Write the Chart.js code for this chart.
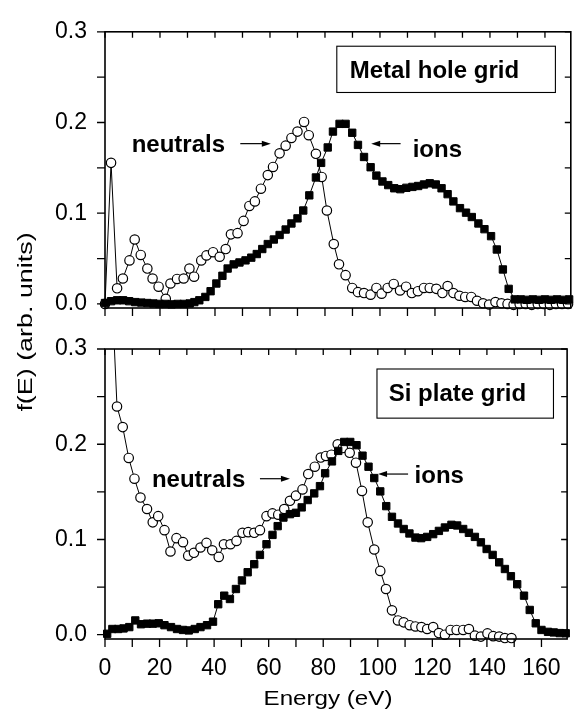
<!DOCTYPE html>
<html>
<head>
<meta charset="utf-8">
<script src="https://cdn.jsdelivr.net/npm/chart.js@4.4.1/dist/chart.umd.min.js"></script>
<style>
  body { margin: 0; background: #fff; }
  #wrap { position: relative; width: 577px; height: 712px; }
  #wrap canvas { position: absolute; left: 0; top: 0; }
</style>
</head>
<body>
<div id="wrap">
  <canvas id="metal" width="577" height="712"></canvas>
  <canvas id="si" width="577" height="712"></canvas>
</div>
<script>
// tick values
var xTicks = [0, 20, 40, 60, 80, 100, 120, 140, 160];
var yTicks = [0.0, 0.1, 0.2, 0.3];

// Metal hole grid - ions (filled squares)
var metalIonE = [0.0, 2.2, 4.4, 6.6, 8.8, 11.0, 13.2, 15.4, 17.6, 19.8, 22.0, 24.2, 26.4, 28.6, 30.8, 32.5, 34.3, 36.5, 38.4, 40.5,
  42.7, 44.6, 46.8, 48.9, 51.1, 53.2, 55.2, 57.2, 59.2, 61.4, 63.5, 65.7, 67.8, 70.0, 72.1, 74.3, 76.7, 78.6, 81.0, 82.9,
  85.3, 87.5, 89.9, 92.0, 94.2, 96.6, 98.7, 100.9, 103.0, 105.2, 107.4, 109.6, 111.8, 113.9, 116.0, 118.1, 120.3, 122.4, 124.6, 126.7,
  129.1, 131.3, 133.4, 135.8, 138.0, 140.4, 142.5, 144.7, 146.8, 149.0, 151.2, 153.4, 155.6, 157.8, 160.0, 162.2, 164.4, 166.6, 168.8];
var metalIonF = [0.001, 0.003, 0.004, 0.004, 0.003, 0.002, 0.0015, 0.001, 0.0005, 0.0, 0.0, -0.0005, 0.0, 0.0, 0.0005, 0.002, 0.004, 0.0077, 0.014, 0.0225,
  0.031, 0.039, 0.0436, 0.0457, 0.048, 0.051, 0.055, 0.0605, 0.066, 0.071, 0.076, 0.082, 0.0887, 0.0943, 0.103, 0.1197, 0.1394, 0.1555, 0.1725, 0.190,
  0.1985, 0.1985, 0.1887, 0.1753, 0.162, 0.1507, 0.1415, 0.135, 0.131, 0.1275, 0.1265, 0.128, 0.129, 0.130, 0.1317, 0.133, 0.1317, 0.1275, 0.121, 0.113,
  0.1056, 0.1006, 0.0958, 0.0887, 0.0824, 0.0747, 0.060, 0.038, 0.0166, 0.005, 0.005, 0.0045, 0.005, 0.0045, 0.005, 0.0045, 0.005, 0.0045, 0.005];

// Metal hole grid - neutrals (open circles)
var metalNeuE = [0.0, 2.2, 4.4, 6.5, 8.9, 10.8, 13.0, 15.4, 17.3, 19.5, 22.1, 23.8, 26.2, 28.6, 30.7, 32.4, 35.0, 36.9, 39.3, 41.7,
  43.9, 45.8, 48.2, 50.4, 52.5, 54.5, 56.7, 59.2, 61.1, 63.5, 65.7, 67.8, 70.0, 72.4, 74.1, 76.7, 78.8, 80.7, 83.2, 85.1,
  87.5, 89.9, 92.0, 94.2, 96.6, 98.7, 100.6, 102.8, 105.0, 107.3, 109.5, 111.6, 113.8, 116.0, 118.1, 120.5, 122.7, 124.6, 126.7, 128.9,
  131.0, 133.2, 135.3, 137.5, 139.7, 142.0, 144.2, 146.4, 148.6, 150.8, 153.0, 155.2, 157.4, 159.6, 161.8, 164.0, 166.2, 168.4];
var metalNeuF = [0.0, 0.1555, 0.0172, 0.028, 0.048, 0.071, 0.054, 0.039, 0.028, 0.019, 0.0056, 0.0225, 0.0275, 0.028, 0.039, 0.030, 0.048, 0.0535, 0.057, 0.052,
  0.0605, 0.0767, 0.078, 0.0915, 0.108, 0.113, 0.127, 0.142, 0.151, 0.166, 0.1745, 0.183, 0.190, 0.2006, 0.186, 0.1655, 0.140, 0.103, 0.066, 0.0437,
  0.0317, 0.0176, 0.013, 0.012, 0.0102, 0.0176, 0.0113, 0.0176, 0.022, 0.0148, 0.019, 0.012, 0.014, 0.0176, 0.0176, 0.0166, 0.012, 0.0197, 0.012, 0.009,
  0.0077, 0.0077, 0.0035, 0.0007, -0.0007, 0.002, 0.0007, 0.0, -0.001, 0.0, 0.0, -0.001, 0.0, 0.0, -0.001, 0.0, 0.0, 0.0];

// Si plate grid - ions
var siIonE = [0.8, 2.7, 4.8, 6.8, 8.9, 11.1, 13.2, 15.4, 17.5, 19.7, 21.8, 24.2, 26.4, 28.6, 30.7, 32.9, 35.0, 37.4, 39.6, 41.5,
  43.7, 45.8, 48.0, 50.2, 52.3, 54.7, 56.8, 59.2, 61.4, 63.3, 65.4, 67.8, 70.0, 72.1, 74.3, 76.7, 78.8, 80.7, 83.2, 85.5,
  87.7, 89.9, 92.2, 94.4, 96.6, 98.7, 100.9, 103.1, 105.2, 107.4, 109.5, 111.6, 113.8, 115.9, 118.1, 120.3, 122.4, 124.6, 127.0, 129.1,
  131.3, 133.4, 135.6, 137.8, 139.9, 142.1, 144.5, 146.6, 148.8, 151.1, 153.6, 155.7, 157.9, 160.0, 162.4, 164.5, 166.7, 168.9];
var siIonF = [0.001, 0.006, 0.006, 0.0066, 0.008, 0.015, 0.011, 0.0116, 0.0116, 0.012, 0.010, 0.008, 0.006, 0.005, 0.0045, 0.006, 0.008, 0.010, 0.0137, 0.032,
  0.041, 0.0375, 0.048, 0.057, 0.0656, 0.074, 0.0838, 0.095, 0.1048, 0.114, 0.123, 0.1266, 0.128, 0.1337, 0.1414, 0.1484, 0.156, 0.1695, 0.182, 0.193,
  0.2024, 0.2024, 0.199, 0.188, 0.1764, 0.1645, 0.1505, 0.135, 0.1238, 0.1168, 0.111, 0.1063, 0.102, 0.1014, 0.1027, 0.1056, 0.109, 0.1126, 0.1154, 0.1147,
  0.111, 0.107, 0.1027, 0.097, 0.090, 0.0838, 0.076, 0.069, 0.0614, 0.053, 0.041, 0.026, 0.012, 0.005, 0.003, 0.0024, 0.0017, 0.0015];

// Si plate grid - neutrals (first point is off scale)
var siNeuE = [2.2, 4.4, 6.5, 8.7, 10.8, 13.0, 15.4, 17.5, 19.5, 21.8, 24.0, 26.2, 28.6, 30.5, 32.6, 35.0, 37.2, 39.3, 41.7, 43.6,
  46.0, 48.2, 50.4, 52.5, 54.7, 56.8, 59.2, 61.4, 63.5, 65.7, 67.8, 70.0, 72.4, 74.5, 76.9, 79.1, 81.0, 83.0, 85.3, 87.2,
  89.7, 92.0, 94.2, 96.3, 98.7, 100.9, 103.0, 105.2, 107.4, 109.5, 111.7, 113.8, 116.0, 118.1, 120.3, 122.4, 124.6, 126.7, 128.9, 131.3,
  133.4, 135.6, 137.8, 140.2, 142.3, 144.5, 146.6, 149.0];
var siNeuF = [0.38, 0.2396, 0.218, 0.1856, 0.1638, 0.144, 0.132, 0.118, 0.1245, 0.1098, 0.0874, 0.1014, 0.0972, 0.083, 0.086, 0.0916, 0.0964, 0.0887, 0.0817, 0.095,
  0.095, 0.0985, 0.107, 0.1077, 0.107, 0.1098, 0.1245, 0.1274, 0.126, 0.132, 0.1406, 0.146, 0.1526, 0.1687, 0.1764, 0.186, 0.1877, 0.189, 0.200, 0.196,
  0.191, 0.1806, 0.151, 0.118, 0.0895, 0.067, 0.048, 0.0256, 0.015, 0.013, 0.010, 0.0087, 0.008, 0.006, 0.008, 0.0017, 0.0, 0.005, 0.005, 0.005,
  0.006, -0.001, -0.002, 0.0014, -0.0015, -0.002, -0.0035, -0.0035];

Chart.defaults.font.family = '"Liberation Sans", Arial, Helvetica, sans-serif';
Chart.defaults.color = '#000';

function pts(xs, ys) {
  return xs.map(function (v, i) { return { x: v, y: ys[i] }; });
}

function arrow(ctx, x1, y1, x2, y2) {
  var a = Math.atan2(y2 - y1, x2 - x1);
  ctx.beginPath();
  ctx.moveTo(x1, y1);
  ctx.lineTo(x2 - 7 * Math.cos(a), y2 - 7 * Math.sin(a));
  ctx.stroke();
  ctx.beginPath();
  ctx.moveTo(x2, y2);
  ctx.lineTo(x2 - 9 * Math.cos(a) + 3 * Math.sin(a), y2 - 9 * Math.sin(a) - 3 * Math.cos(a));
  ctx.lineTo(x2 - 9 * Math.cos(a) - 3 * Math.sin(a), y2 - 9 * Math.sin(a) + 3 * Math.cos(a));
  ctx.closePath();
  ctx.fill();
}

// frame, ticks on four sides and the notes
var framePlugin = {
  id: 'frame',
  afterDraw: function (chart, args, o) {
    var ctx = chart.ctx, a = chart.chartArea, x = chart.scales.x, y = chart.scales.y;
    ctx.save();
    ctx.strokeStyle = '#000';
    ctx.fillStyle = '#000';
    ctx.lineWidth = 1.3;
    ctx.beginPath();
    for (var v = 0; v <= 170; v += 10) {
      var px = x.getPixelForValue(v);
      if (px > a.right - 1) continue;
      ctx.moveTo(px, a.bottom); ctx.lineTo(px, a.bottom + 8);
      ctx.moveTo(px, a.top); ctx.lineTo(px, a.top + 6);
    }
    for (var k = 0; k <= 6; k++) {
      var py = y.getPixelForValue(k * 0.05);
      ctx.moveTo(a.left - 8, py); ctx.lineTo(a.left, py);
      ctx.moveTo(a.right, py); ctx.lineTo(a.right - 6, py);
    }
    ctx.stroke();
    ctx.lineWidth = 1.6;
    ctx.strokeRect(a.left, a.top, a.right - a.left, a.bottom - a.top);

    // label box
    ctx.lineWidth = 1.1;
    var b = o.box;
    var bx1 = x.getPixelForValue(b[0]), bx2 = x.getPixelForValue(b[1]);
    var by1 = y.getPixelForValue(b[2]), by2 = y.getPixelForValue(b[3]);
    ctx.strokeRect(bx1, by1, bx2 - bx1, by2 - by1);
    ctx.font = 'bold 24px "Liberation Sans", Arial, sans-serif';
    ctx.textBaseline = 'alphabetic';
    ctx.textAlign = 'left';
    ctx.fillText(o.label, x.getPixelForValue(o.labelAt[0]), y.getPixelForValue(o.labelAt[1]));
    o.texts.forEach(function (t) {
      ctx.fillText(t[0], x.getPixelForValue(t[1]), y.getPixelForValue(t[2]));
    });
    ctx.lineWidth = 1.2;
    o.arrows.forEach(function (r) {
      arrow(ctx, x.getPixelForValue(r[0]), y.getPixelForValue(r[1]), x.getPixelForValue(r[2]), y.getPixelForValue(r[3]));
    });

    if (o.titles) {
      ctx.font = '21px "Liberation Sans", Arial, sans-serif';
      ctx.textAlign = 'center';
      ctx.save();
      ctx.translate(328, 705);
      ctx.scale(1.15, 1);
      ctx.fillText('Energy (eV)', 0, 0);
      ctx.restore();
      ctx.save();
      ctx.translate(32, 322);
      ctx.rotate(-Math.PI / 2);
      ctx.scale(1.28, 1);
      ctx.fillText('f(E) (arb. units)', 0, 0);
      ctx.restore();
    }
    ctx.restore();
  }
};

function panel(id, ions, neutrals, top, bottom, showX, notes) {
  return new Chart(document.getElementById(id), {
    type: 'line',
    data: {
      datasets: [
        {
          label: 'ions',
          data: ions,
          borderColor: '#000',
          borderWidth: 1,
          pointStyle: 'rect',
          pointRadius: 5.2,
          pointBackgroundColor: '#000',
          pointBorderColor: '#000',
          pointBorderWidth: 1,
          clip: { left: 8, right: 8, top: 0, bottom: 8 }
        },
        {
          label: 'neutrals',
          data: neutrals,
          borderColor: '#000',
          borderWidth: 1,
          pointStyle: 'circle',
          pointRadius: 4.7,
          pointBackgroundColor: '#fff',
          pointBorderColor: '#000',
          pointBorderWidth: 1.2,
          clip: { left: 8, right: 8, top: 0, bottom: 8 }
        }
      ]
    },
    options: {
      responsive: false,
      animation: false,
      events: [],
      layout: { padding: { top: top, left: 0, right: 1, bottom: 0 } },
      elements: { line: { tension: 0 } },
      plugins: { legend: { display: false }, tooltip: { enabled: false }, frame: notes },
      scales: {
        x: {
          type: 'linear',
          min: 0,
          max: 169.4,
          border: { display: false },
          grid: { display: false, drawTicks: false },
          afterBuildTicks: function (s) { s.ticks = xTicks.map(function (v) { return { value: v }; }); },
          afterFit: function (s) { s.height = 712 - bottom; },
          ticks: { display: showX, maxRotation: 0, padding: 16, font: { size: 23 } }
        },
        y: {
          min: -0.0045,
          max: 0.3,
          border: { display: false },
          grid: { display: false, drawTicks: false },
          afterBuildTicks: function (s) { s.ticks = yTicks.map(function (v) { return { value: v }; }); },
          afterFit: function (s) { s.width = 105; },
          ticks: { padding: 18, font: { size: 23 }, callback: function (v) { return v.toFixed(1); } }
        }
      }
    },
    plugins: [framePlugin]
  });
}

panel('metal', pts(metalIonE, metalIonF), pts(metalNeuE, metalNeuF), 20, 308, false, {
  box: [84.3, 163.8, 0.2841, 0.2331], label: 'Metal hole grid', labelAt: [89.0, 0.249],
  texts: [['neutrals', 9.7, 0.167], ['ions', 111.9, 0.162]],
  arrows: [[49.2, 0.1767, 60.3, 0.1767], [107.5, 0.1767, 96.8, 0.1767]]
});

panel('si', pts(siIonE, siIonF), pts(siNeuE, siNeuF), 349, 639, true, {
  box: [99.7, 164.4, 0.279, 0.2274], label: 'Si plate grid', labelAt: [104.0, 0.2449],
  texts: [['neutrals', 17.2, 0.1554], ['ions', 113.5, 0.159]],
  arrows: [[56.8, 0.1638, 67.8, 0.1638], [111.1, 0.1687, 100.1, 0.1687]],
  titles: true
});
</script>
</body>
</html>
